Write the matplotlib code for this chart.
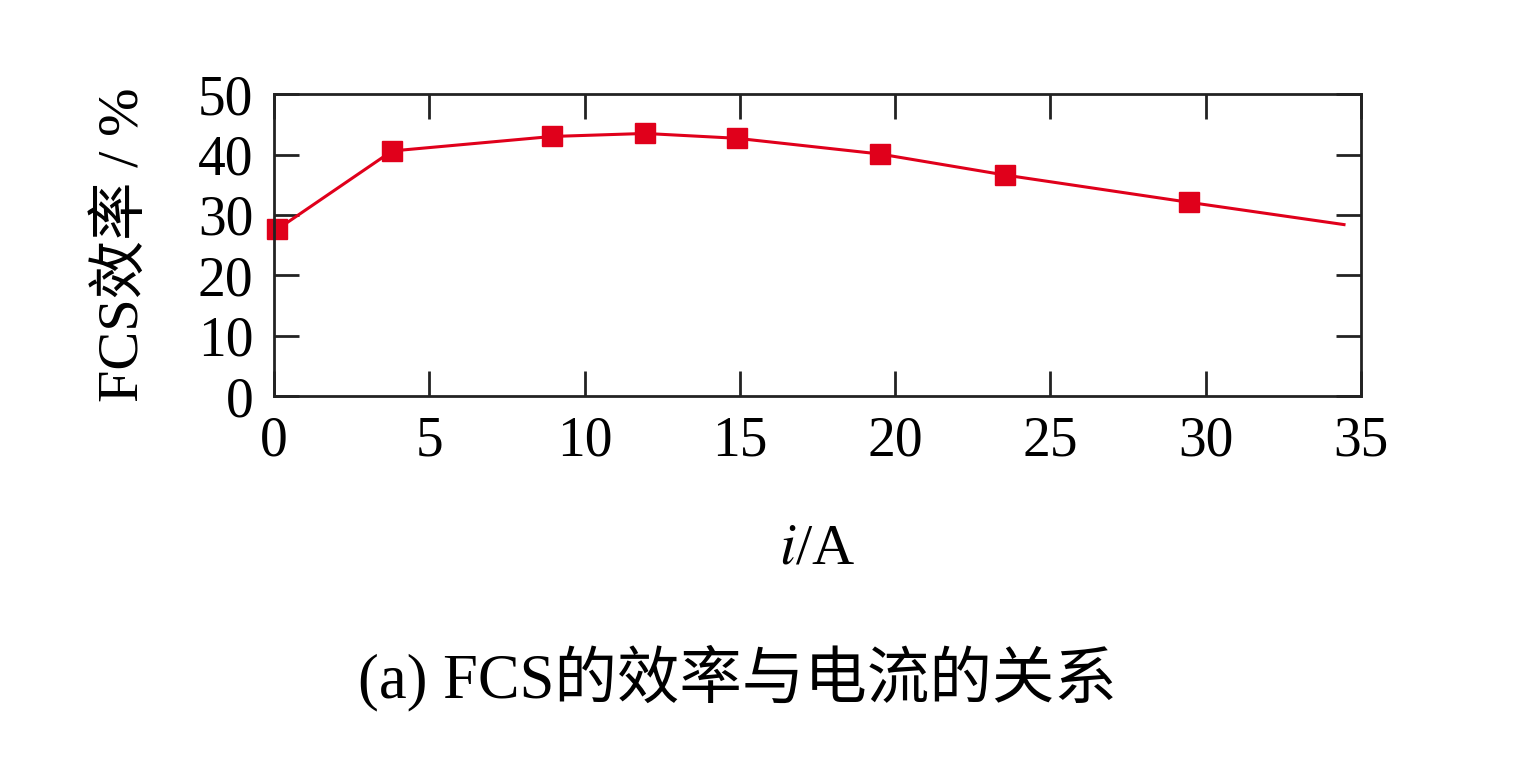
import numpy as np
import matplotlib.pyplot as plt

plt.rcParams['font.family'] = ['Liberation Serif', 'Noto Sans CJK SC']
plt.rcParams['mathtext.fontset'] = 'stix'

# current (A) and FCS efficiency (%)
current = [0.1, 3.8, 8.95, 11.95, 14.9, 19.5, 23.55, 29.45, 34.45]
efficiency = [27.6, 40.6, 43.0, 43.5, 42.7, 40.1, 36.6, 32.1, 28.4]
xticks = [0, 5, 10, 15, 20, 25, 30, 35]
yticks = [0, 10, 20, 30, 40, 50]

fig = plt.figure(figsize=(15.14, 7.66), dpi=100)
ax = fig.add_axes([0.181, 0.483, 0.718, 0.394])

red = '#e0001b'
ax.plot(current, efficiency, color=red, lw=2.2, marker='s', ms=15,
        markevery=list(range(len(current) - 1)), mec=red, mfc=red, clip_on=False)

ax.set_xlim(0, 35)
ax.set_ylim(0, 50)
ax.set_xticks(xticks)
ax.set_yticks(yticks)
ax.tick_params(direction='in', length=18, width=2, labelsize=40,
               top=True, right=True, color='#222222')
ax.tick_params(axis='y', pad=15)
ax.tick_params(axis='x', pad=14)
for s in ax.spines.values():
    s.set_linewidth(2)
    s.set_color('#222222')

ax.set_ylabel('FCS效率 / %', fontsize=42, labelpad=34)
ax.set_xlabel('$i$/A', fontsize=42, labelpad=40)
fig.text(0.487, 0.09, '(a) FCS的效率与电流的关系', fontsize=45, ha='center')

fig.savefig('out.png', dpi=100)
